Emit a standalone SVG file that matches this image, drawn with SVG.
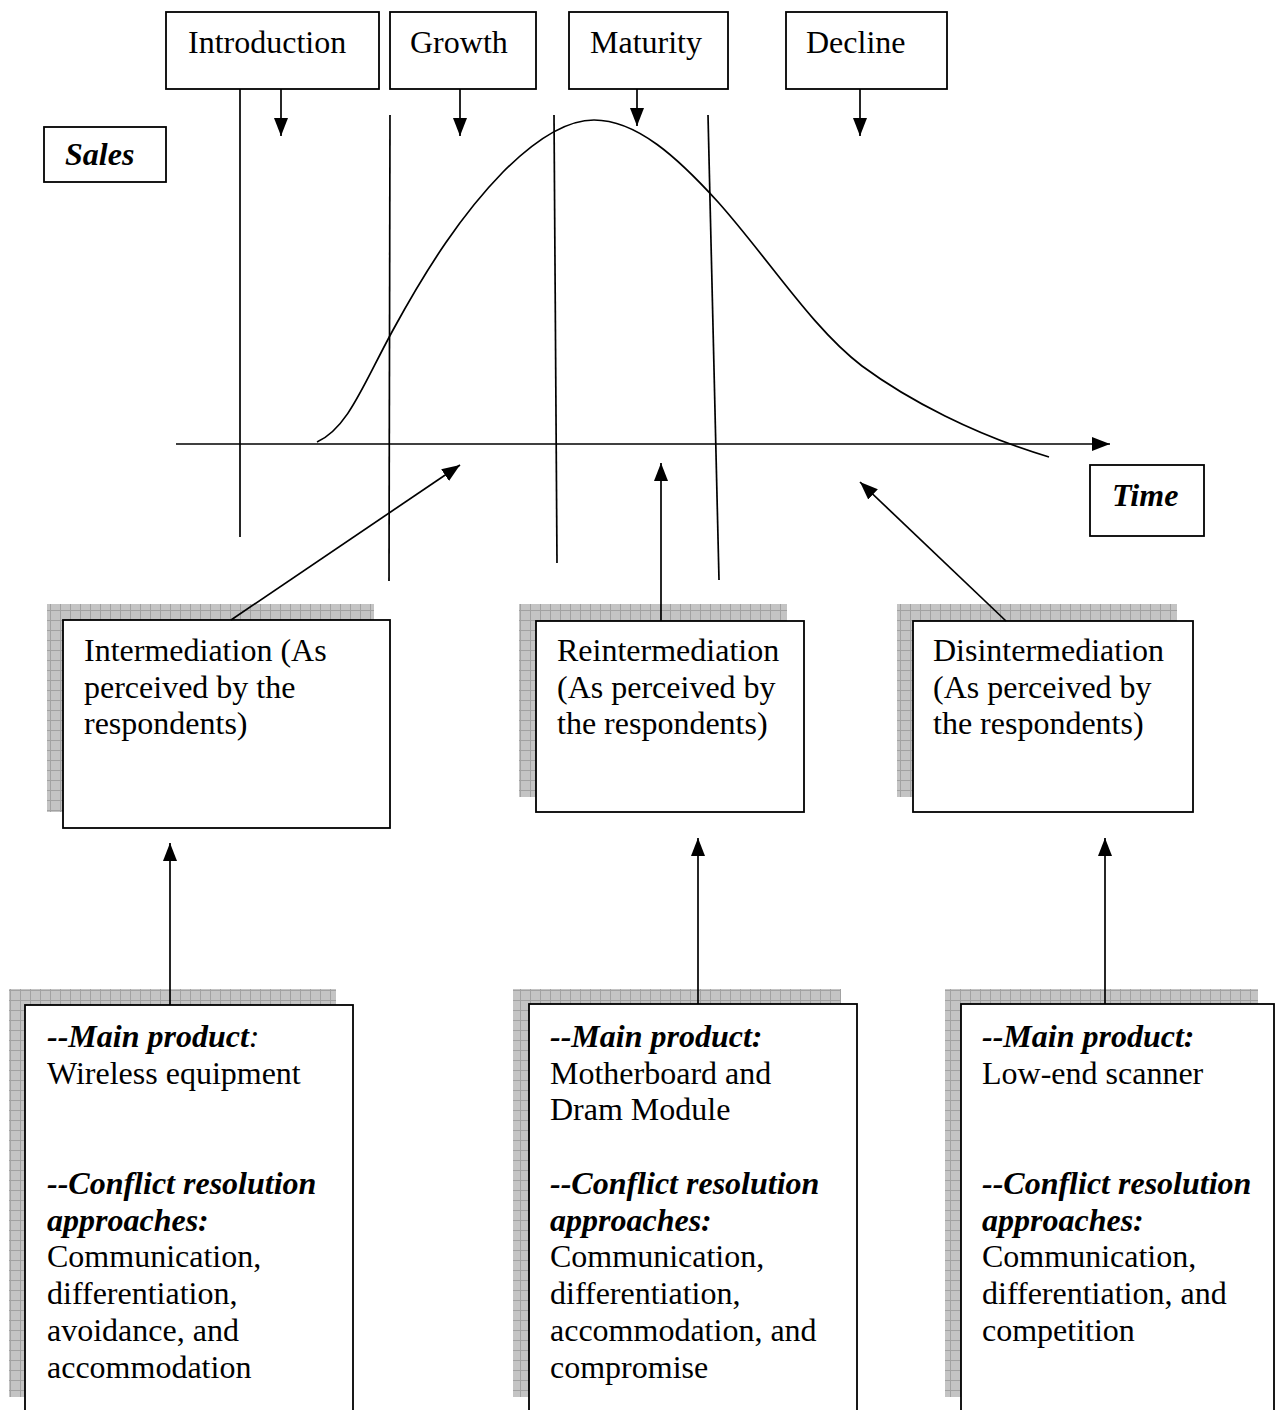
<svg xmlns="http://www.w3.org/2000/svg" width="1280" height="1410" viewBox="0 0 1280 1410">
  <style>
    .box { fill: #ffffff; stroke: #000000; stroke-width: 1.8; }
    .shadow { fill: url(#grid); }
    .ln { fill: none; stroke: #000000; stroke-width: 1.7; }
    .t { font-family: "Liberation Serif", "Times New Roman", serif; font-size: 32px; fill: #000000; }
    .bi { font-weight: bold; font-style: italic; }
    .i { font-style: italic; }
  </style>
  <defs>
    <pattern id="grid" width="10" height="10" patternUnits="userSpaceOnUse">
      <rect width="10" height="10" fill="#c4c4c4"/>
      <path d="M0,0.5 H10 M0.5,0 V10" stroke="#a2a2a2" stroke-width="1"/>
    </pattern>
    <marker id="ah" viewBox="0 0 18 14" refX="18" refY="7" markerWidth="18" markerHeight="14" markerUnits="userSpaceOnUse" orient="auto">
      <path d="M0,0 L18,7 L0,14 z" fill="#000000"/>
    </marker>
  </defs>

  <rect width="1280" height="1410" fill="#ffffff"/>

  <!-- life-cycle stage labels -->
  <g id="stage-introduction">
    <rect class="box" x="166" y="12" width="213" height="77"/>
    <text class="t" x="188" y="53">Introduction</text>
  </g>
  <g id="stage-growth">
    <rect class="box" x="390" y="12" width="146" height="77"/>
    <text class="t" x="410" y="53">Growth</text>
  </g>
  <g id="stage-maturity">
    <rect class="box" x="569" y="12" width="159" height="77"/>
    <text class="t" x="590" y="53">Maturity</text>
  </g>
  <g id="stage-decline">
    <rect class="box" x="786" y="12" width="161" height="77"/>
    <text class="t" x="806" y="53">Decline</text>
  </g>

  <!-- axis labels -->
  <g id="label-sales">
    <rect class="box" x="44" y="127" width="122" height="55"/>
    <text class="t bi" x="65" y="165">Sales</text>
  </g>
  <g id="label-time">
    <rect class="box" x="1090" y="465" width="114" height="71"/>
    <text class="t bi" x="1112" y="506">Time</text>
  </g>

  <!-- sales curve, axis and stage dividers -->
  <g id="chart">
    <line class="ln" x1="240" y1="89" x2="240" y2="537"/>
    <line class="ln" x1="390" y1="115" x2="389" y2="581"/>
    <line class="ln" x1="554" y1="115" x2="557" y2="563"/>
    <line class="ln" x1="708" y1="115" x2="719" y2="580"/>
    <line class="ln" x1="176" y1="444" x2="1110" y2="444" marker-end="url(#ah)"/>
    <path class="ln" d="M317,442 C348,428 363,385 393,330 C428,266 462,214 503,172 C538,137 567,120 594,120 C637,120 678,158 718,202 C768,258 812,328 862,366 C908,400 975,435 1049,457"/>
  </g>

  <!-- channel change boxes -->
  <g id="intermediation">
    <rect class="shadow" x="47" y="604" width="327" height="208"/>
    <rect class="box" x="63" y="620" width="327" height="208"/>
    <text class="t" x="84" y="661">Intermediation (As</text>
    <text class="t" x="84" y="698">perceived by the</text>
    <text class="t" x="84" y="734">respondents)</text>
  </g>
  <g id="reintermediation">
    <rect class="shadow" x="519" y="604" width="268" height="193"/>
    <rect class="box" x="536" y="621" width="268" height="191"/>
    <text class="t" x="557" y="661">Reintermediation</text>
    <text class="t" x="557" y="698">(As perceived by</text>
    <text class="t" x="557" y="734">the respondents)</text>
  </g>
  <g id="disintermediation">
    <rect class="shadow" x="897" y="604" width="280" height="193"/>
    <rect class="box" x="913" y="621" width="280" height="191"/>
    <text class="t" x="933" y="661">Disintermediation</text>
    <text class="t" x="933" y="698">(As perceived by</text>
    <text class="t" x="933" y="734">the respondents)</text>
  </g>

  <!-- product / conflict resolution boxes -->
  <g id="wireless">
    <rect class="shadow" x="9" y="989" width="327" height="408"/>
    <rect class="box" x="25" y="1005" width="328" height="430"/>
    <text class="t" x="47" y="1047"><tspan class="bi">--Main product</tspan><tspan class="i">:</tspan></text>
    <text class="t" x="47" y="1084">Wireless equipment</text>
    <text class="t bi" x="47" y="1194">--Conflict resolution</text>
    <text class="t bi" x="47" y="1231">approaches:</text>
    <text class="t" x="47" y="1267">Communication,</text>
    <text class="t" x="47" y="1304">differentiation,</text>
    <text class="t" x="47" y="1341">avoidance, and</text>
    <text class="t" x="47" y="1378">accommodation</text>
  </g>
  <g id="motherboard">
    <rect class="shadow" x="513" y="989" width="328" height="408"/>
    <rect class="box" x="529" y="1004" width="328" height="430"/>
    <text class="t bi" x="550" y="1047">--Main product:</text>
    <text class="t" x="550" y="1084">Motherboard and</text>
    <text class="t" x="550" y="1120">Dram Module</text>
    <text class="t bi" x="550" y="1194">--Conflict resolution</text>
    <text class="t bi" x="550" y="1231">approaches:</text>
    <text class="t" x="550" y="1267">Communication,</text>
    <text class="t" x="550" y="1304">differentiation,</text>
    <text class="t" x="550" y="1341">accommodation, and</text>
    <text class="t" x="550" y="1378">compromise</text>
  </g>
  <g id="scanner">
    <rect class="shadow" x="945" y="989" width="313" height="408"/>
    <rect class="box" x="961" y="1004" width="313" height="430"/>
    <text class="t bi" x="982" y="1047">--Main product:</text>
    <text class="t" x="982" y="1084">Low-end scanner</text>
    <text class="t bi" x="982" y="1194">--Conflict resolution</text>
    <text class="t bi" x="982" y="1231">approaches:</text>
    <text class="t" x="982" y="1267">Communication,</text>
    <text class="t" x="982" y="1304">differentiation, and</text>
    <text class="t" x="982" y="1341">competition</text>
  </g>

  <!-- connectors -->
  <g id="connectors">
    <line class="ln" x1="281" y1="89" x2="281" y2="136" marker-end="url(#ah)"/>
    <line class="ln" x1="460" y1="89" x2="460" y2="136" marker-end="url(#ah)"/>
    <line class="ln" x1="637" y1="89" x2="637" y2="126" marker-end="url(#ah)"/>
    <line class="ln" x1="860" y1="89" x2="860" y2="136" marker-end="url(#ah)"/>
    <line class="ln" x1="231" y1="620" x2="460" y2="465" marker-end="url(#ah)"/>
    <line class="ln" x1="661" y1="621" x2="661" y2="463" marker-end="url(#ah)"/>
    <line class="ln" x1="1006" y1="621" x2="860" y2="482" marker-end="url(#ah)"/>
    <line class="ln" x1="170" y1="1005" x2="170" y2="843" marker-end="url(#ah)"/>
    <line class="ln" x1="698" y1="1004" x2="698" y2="838" marker-end="url(#ah)"/>
    <line class="ln" x1="1105" y1="1004" x2="1105" y2="838" marker-end="url(#ah)"/>
  </g>
</svg>
